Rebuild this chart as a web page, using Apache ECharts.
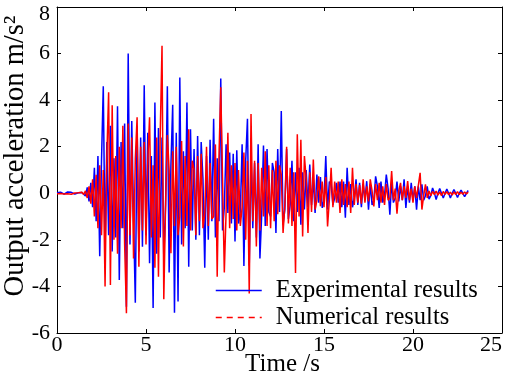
<!DOCTYPE html>
<html>
<head>
<meta charset="utf-8">
<script src="https://cdn.jsdelivr.net/npm/echarts@6/dist/echarts.min.js"></script>
<style>
  html, body { margin: 0; padding: 0; background: #fff; }
  #main { width: 510px; height: 374px; }
</style>
</head>
<body>
<div id="main"></div>
<script>
// 采样间隔 0.1 s，从 0 s 到 23.1 s
const dt = 0.1;

// 实验结果（蓝线）
const expValues = [
  0.02,-0.03,0.05,0.01,-0.04,0.03,0.06,-0.02,0.04,0.00,
  -0.03,0.04,0.02,-0.05,0.03,0.08,-0.12,0.25,-0.35,0.45,
  -0.60,1.10,-1.20,1.60,-2.70,1.40,4.60,-2.40,2.20,-1.80,
  2.90,-2.50,1.50,-1.90,3.74,-3.72,2.20,-1.50,3.00,-4.87,
  6.00,-2.20,3.10,-1.00,-4.70,2.90,-2.50,2.40,-2.30,4.64,
  -1.80,2.60,-3.00,1.60,-4.93,3.90,-2.60,2.80,-1.90,2.40,
  -2.80,-0.50,4.60,-3.40,1.20,3.80,-5.13,2.60,-4.65,4.97,
  -2.20,1.80,-1.50,3.90,-3.15,2.75,-1.60,1.90,-2.00,2.46,
  -1.80,2.20,0.60,-3.20,1.60,-2.00,2.30,-1.20,3.20,-1.90,
  1.50,-1.20,4.93,-1.60,-0.60,2.10,-0.85,1.75,-1.30,1.70,
  -2.07,1.85,-1.30,-0.80,2.10,-3.12,1.40,3.20,-3.10,1.60,
  -1.50,1.30,-1.90,2.10,-2.80,-0.90,2.05,-1.40,1.90,-0.80,
  -1.00,1.30,0.90,-1.70,1.90,-0.80,3.53,-1.35,-0.70,1.90,
  -1.10,-0.50,1.40,-1.20,0.90,-0.80,1.10,-1.35,0.90,-0.70,
  1.00,-0.60,1.24,-0.50,0.60,-0.85,0.80,-0.40,0.70,-0.63,
  -0.30,1.60,-0.70,0.50,0.40,-0.50,-0.20,0.45,-0.40,0.50,
  -0.60,0.50,-1.05,1.10,-0.50,0.40,-0.60,-0.20,0.60,-0.50,
  0.45,-0.60,0.40,-0.30,0.52,-0.70,0.40,-0.50,-0.30,0.73,
  0.30,-0.63,0.50,-0.40,-0.10,0.80,0.20,-0.92,0.50,-0.40,
  -0.20,0.50,-0.35,0.30,-0.30,0.60,-0.63,0.30,-0.40,0.45,
  -0.30,0.30,-0.70,0.30,-0.30,0.38,-0.30,-0.10,0.30,-0.25,
  -0.10,0.23,0.02,-0.27,0.00,0.20,0.00,-0.20,0.00,0.18,
  0.00,-0.20,0.00,0.16,0.00,-0.18,0.00,0.14,0.00,-0.15,
  0.00,0.12
];

// 数值结果（红线）
const numValues = [
  -0.02,0.03,-0.01,0.02,-0.03,0.01,-0.02,0.03,-0.04,0.02,
  0.01,-0.03,0.02,-0.02,0.04,-0.05,0.10,-0.20,0.30,-0.45,
  0.60,-1.00,0.80,-1.50,1.20,-1.80,1.00,-4.00,1.60,4.34,
  -3.94,3.78,-2.00,1.60,-2.60,2.00,-1.50,2.90,-2.20,-5.15,
  3.00,-1.80,2.40,-2.80,1.50,3.26,-3.15,2.00,-1.60,2.20,
  -2.20,1.40,3.26,-1.90,1.20,-3.20,2.40,-3.58,2.60,6.34,
  -4.55,-0.50,2.50,1.00,-2.57,1.80,-1.40,2.00,-1.80,-1.00,
  2.25,-2.28,1.60,-1.40,2.75,-1.60,1.40,1.00,-1.80,1.60,
  -1.20,1.70,-1.50,-0.90,2.00,-1.40,1.30,-1.10,-1.00,2.10,
  -3.58,1.60,4.55,0.60,-3.40,-0.80,2.60,-1.50,1.20,-1.10,
  1.30,-1.60,1.00,-1.40,-0.60,1.75,-2.00,1.40,-4.30,3.40,
  -1.20,1.40,-2.28,1.30,-1.60,1.10,-1.00,1.80,-1.40,1.20,
  -1.50,1.00,-1.20,1.40,-0.90,1.20,0.80,-1.70,-0.50,2.00,
  -1.30,1.10,-1.40,0.90,-3.42,2.53,-1.00,2.30,-1.85,1.60,
  0.60,-1.70,0.90,-0.80,1.45,-0.70,-0.30,0.73,-0.56,0.50,
  -0.60,0.70,-1.42,-0.30,1.10,-0.60,0.50,-0.40,0.50,-0.85,
  0.60,-0.50,0.40,-0.60,0.50,-0.85,1.10,-0.50,0.40,-0.40,
  0.35,-0.45,0.60,-0.40,0.30,-0.35,0.60,0.10,-0.56,0.40,
  -0.30,0.45,-0.40,0.30,-0.50,0.40,-0.30,-0.20,0.95,-0.30,
  0.20,-0.88,0.10,0.45,-0.30,0.30,-0.20,0.52,-0.30,0.20,
  -0.40,0.30,-0.20,-0.20,0.88,-0.70,-0.10,0.38,-0.20,0.10,
  -0.10,0.08,-0.06,0.10,-0.08,0.06,-0.10,0.08,-0.05,0.07,
  -0.06,0.05,-0.08,0.06,-0.05,0.07,-0.06,0.05,-0.04,0.06,
  -0.03,0.05
];

const seriesNames = ['Experimental results', 'Numerical results'];
const xTicks = [0, 5, 10, 15, 20, 25];
const yTicks = [-6, -4, -2, 0, 2, 4, 6, 8];

const toPairs = arr => arr.map((v, i) => [+(i * dt).toFixed(2), v]);

const font = 'Liberation Serif';
const chart = echarts.init(document.getElementById('main'), null, { renderer: 'canvas' });

const axisCommon = {
  type: 'value',
  nameMoveOverlap: false,
  axisLine: { show: true, onZero: false, lineStyle: { color: '#000', width: 1 } },
  axisTick: { show: true, inside: true, length: 4, lineStyle: { color: '#000' } },
  splitLine: { show: false }
};

const option = {
  animation: false,
  backgroundColor: '#fff',
  grid: { left: 57, right: 8, top: 7, bottom: 41, outerBoundsMode: 'none' },
  legend: {
    orient: 'vertical',
    left: 215,
    top: 278,
    padding: 0,
    itemWidth: 46,
    itemHeight: 14,
    itemGap: 2,
    itemStyle: { opacity: 0 },
    textStyle: { fontFamily: font, fontSize: 24.5, lineHeight: 24, color: '#000', padding: [0, 0, 0, 9] },
    data: [
      { name: seriesNames[0], lineStyle: { type: 'solid', width: 1.5 } },
      { name: seriesNames[1], lineStyle: { type: [6, 5], width: 1.5 } }
    ]
  },
  xAxis: [
    Object.assign({}, axisCommon, {
      min: xTicks[0], max: xTicks[xTicks.length - 1], interval: 5,
      name: 'Time /s', nameLocation: 'middle', nameGap: 19,
      nameTextStyle: { fontFamily: font, fontSize: 25, color: '#000', padding: [0, 0, 0, 6] },
      axisLabel: { fontFamily: font, fontSize: 22, color: '#000', margin: 1, alignMaxLabel: 'right' }
    }),
    Object.assign({}, axisCommon, {
      position: 'top', min: xTicks[0], max: xTicks[xTicks.length - 1], interval: 5,
      axisLabel: { show: false }
    })
  ],
  yAxis: [
    Object.assign({}, axisCommon, {
      min: yTicks[0], max: yTicks[yTicks.length - 1], interval: 2,
      name: 'Output acceleration m/s²', nameLocation: 'middle', nameGap: 27, nameRotate: 90,
      nameTextStyle: { fontFamily: font, fontSize: 28.5, color: '#000', padding: [0, 0, 0, 28] },
      axisLabel: {
        fontFamily: font, fontSize: 22, lineHeight: 14, color: '#000', margin: 7,
        verticalAlignMaxLabel: 'top'
      }
    }),
    Object.assign({}, axisCommon, {
      position: 'right', min: yTicks[0], max: yTicks[yTicks.length - 1], interval: 2,
      axisLabel: { show: false }
    })
  ],
  series: [
    {
      name: seriesNames[0], type: 'line', data: toPairs(expValues),
      symbol: 'none', color: '#0000ff',
      lineStyle: { width: 1.5, color: '#0000ff' }
    },
    {
      name: seriesNames[1], type: 'line', data: toPairs(numValues),
      symbol: 'none', color: '#ff0000',
      lineStyle: { width: 1.5, color: '#ff0000' }
    }
  ]
};

chart.setOption(option);
</script>
</body>
</html>
